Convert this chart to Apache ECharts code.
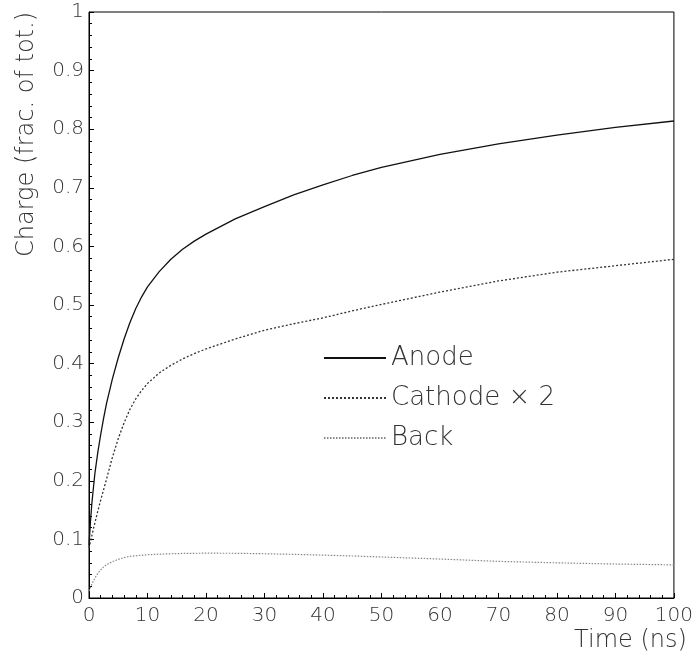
<!DOCTYPE html>
<html>
<head>
<meta charset="utf-8">
<script src="https://cdn.jsdelivr.net/npm/echarts@6/dist/echarts.min.js"></script>
<style>
  html, body { margin: 0; padding: 0; background: #fff; }
  #chart { width: 696px; height: 655px; }
</style>
</head>
<body>
<div id="chart"></div>
<script>
// Induced charge versus time, as a fraction of the total
const timeNs = [0, 0.25, 0.5, 1, 1.5, 2, 2.5, 3, 4, 5, 6, 7, 8, 9, 10, 12, 14, 16, 18, 20, 25, 30, 35, 40, 45, 50, 60, 70, 80, 90, 100];
const anode = [0.09, 0.13, 0.163, 0.212, 0.248, 0.279, 0.307, 0.332, 0.374, 0.410, 0.442, 0.470, 0.494, 0.514, 0.531, 0.557, 0.578, 0.595, 0.609, 0.621, 0.647, 0.668, 0.688, 0.705, 0.721, 0.735, 0.757, 0.775, 0.790, 0.803, 0.814];
const cathodeX2 = [0.085, 0.096, 0.107, 0.128, 0.148, 0.167, 0.185, 0.203, 0.240, 0.272, 0.299, 0.322, 0.340, 0.354, 0.366, 0.384, 0.397, 0.408, 0.417, 0.425, 0.442, 0.457, 0.468, 0.478, 0.490, 0.501, 0.522, 0.541, 0.556, 0.567, 0.578];
const back = [0.012, 0.018, 0.024, 0.034, 0.042, 0.048, 0.053, 0.057, 0.062, 0.066, 0.069, 0.071, 0.072, 0.073, 0.0738, 0.0748, 0.0755, 0.076, 0.0763, 0.0765, 0.0763, 0.0755, 0.0745, 0.0732, 0.0717, 0.070, 0.0665, 0.0625, 0.060, 0.058, 0.0565];
const seriesNames = ['Anode', 'Cathode \u00d7 2', 'Back'];

const pairs = (ys) => timeNs.map((t, i) => [t, ys[i]]);
const FONT = 'DejaVu Sans';
const TXT = '#333';

const chart = echarts.init(document.getElementById('chart'), null, { renderer: 'canvas' });
chart.setOption({
  animation: false,
  backgroundColor: '#fff',
  textStyle: { fontFamily: FONT },
  grid: {
    left: 89, right: 21, top: 12, bottom: 57,
    show: true, borderColor: '#000', borderWidth: 1, backgroundColor: 'transparent'
  },
  legend: {
    orient: 'vertical',
    left: 318, top: 340,
    itemWidth: 62, itemHeight: 14, itemGap: 14,
    itemStyle: { opacity: 0 },
    textStyle: { fontFamily: FONT, fontSize: 26, fontWeight: 200, color: TXT, padding: [0, 0, 0, 0] },
    data: seriesNames
  },
  xAxis: {
    type: 'value', min: 0, max: 100, interval: 10,
    name: 'Time (ns)', nameLocation: 'end',
    nameGap: 0,
    nameTextStyle: { fontSize: 24, fontWeight: 200, color: TXT, align: 'right', verticalAlign: 'top', padding: [31, -13, 0, 0] },
    axisLine: { show: true, lineStyle: { color: '#000', width: 1 } },
    axisTick: { show: true, inside: true, length: 5, lineStyle: { color: '#000' } },
    minorTick: { show: true, splitNumber: 5, length: 3, lineStyle: { color: '#000' } },
    axisLabel: { fontSize: 20, fontWeight: 200, color: TXT, margin: 8 },
    splitLine: { show: false }
  },
  yAxis: {
    type: 'value', min: 0, max: 1, interval: 0.1,
    name: 'Charge (frac. of tot.)', nameLocation: 'end', nameRotate: 90,
    nameGap: 0,
    nameTextStyle: { fontSize: 24, fontWeight: 200, color: TXT, align: 'right', verticalAlign: 'bottom', padding: [0, 0, 50, 0] },
    axisLine: { show: true, lineStyle: { color: '#000', width: 1 } },
    axisTick: { show: true, inside: true, length: 5, lineStyle: { color: '#000' } },
    minorTick: { show: true, splitNumber: 5, length: 3, lineStyle: { color: '#000' } },
    axisLabel: { fontSize: 20, fontWeight: 200, color: TXT, margin: 5,
      formatter: (v) => (Math.round(v * 10) / 10).toString() },
    splitLine: { show: false }
  },
  series: [
    {
      name: seriesNames[0], type: 'line', data: pairs(anode),
      smooth: false,
      showSymbol: false, symbol: 'none',
      lineStyle: { color: '#111', width: 1.3, type: 'solid', join: 'round' },
      itemStyle: { color: '#111' }
    },
    {
      name: seriesNames[1], type: 'line', data: pairs(cathodeX2),
      smooth: false,
      showSymbol: false, symbol: 'none',
      lineStyle: { color: '#333', width: 1.3, type: [2, 2], join: 'round' },
      itemStyle: { color: '#333' }
    },
    {
      name: seriesNames[2], type: 'line', data: pairs(back),
      smooth: false,
      showSymbol: false, symbol: 'none',
      lineStyle: { color: '#888', width: 1.2, type: [1.5, 1.5], join: 'round' },
      itemStyle: { color: '#888' }
    }
  ]
});
</script>
</body>
</html>
